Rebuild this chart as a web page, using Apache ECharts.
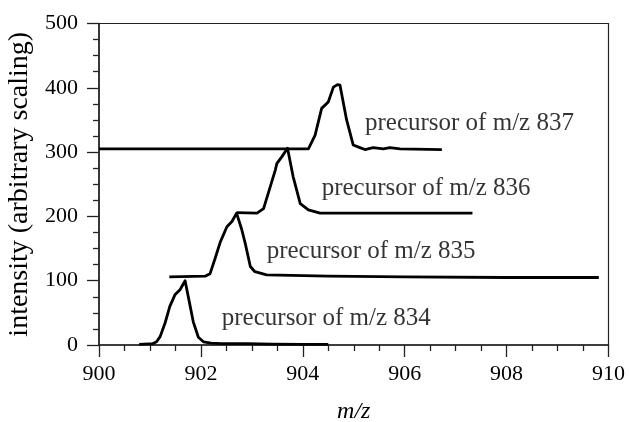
<!DOCTYPE html>
<html>
<head>
<meta charset="utf-8">
<script src="https://cdn.jsdelivr.net/npm/echarts@6/dist/echarts.min.js"></script>
<style>
  html, body { margin: 0; padding: 0; background: #fff; }
  #chart { width: 629px; height: 422px; }
</style>
</head>
<body>
<div id="chart"></div>
<script>
// Precursor isotope traces, each shifted up by ~100 for readability
const mz834 = [900.79, 901.05, 901.13, 901.20, 901.30, 901.39, 901.49, 901.59, 901.69, 901.75, 901.85, 901.95, 902.05, 902.20, 902.40, 902.90, 903.40, 904.00, 904.50];
const int834 = [1, 2, 5, 13, 35, 60, 78, 86, 100, 76, 36, 12, 5, 3, 2, 2, 1.5, 1, 1];

const mz835 = [901.38, 902.08, 902.18, 902.28, 902.38, 902.51, 902.61, 902.70, 902.80, 902.87, 902.97, 903.06, 903.29, 904.50, 906.00, 908.00, 909.81];
const int835 = [106, 107, 111, 135, 160, 184, 192, 205, 180, 158, 122, 114, 109, 107, 106, 105, 105];

const mz836 = [902.70, 903.10, 903.23, 903.36, 903.46, 903.49, 903.59, 903.70, 903.81, 903.95, 904.11, 904.34, 905.50, 907.33];
const int836 = [206, 205, 212, 246, 272, 282, 293, 306, 262, 220, 210, 205, 205, 205];

const mz837 = [900.00, 904.11, 904.24, 904.37, 904.50, 904.60, 904.68, 904.73, 904.86, 904.99, 905.12, 905.22, 905.38, 905.58, 905.71, 905.91, 906.73];
const int837 = [305, 305, 326, 368, 378, 401, 405, 404, 350, 311, 307, 304, 307, 305, 307, 305, 304];

// Trace captions and where they sit (data units)
const captionText = ['precursor of m/z 837', 'precursor of m/z 836', 'precursor of m/z 835', 'precursor of m/z 834'];
const captionMz = [905.22, 904.37, 903.29, 902.41];
const captionInt = [345, 243.5, 145, 41];

const FONT = "'Liberation Serif', 'Times New Roman', serif";

function pairs(xs, ys) { return xs.map((x, i) => [x, ys[i]]); }

function trace(name, xs, ys) {
  return {
    name: name,
    type: 'line',
    data: pairs(xs, ys),
    showSymbol: false,
    symbol: 'none',
    smooth: false,
    lineStyle: { color: '#000', width: 2.8, join: 'round' },
    z: 3
  };
}

const chart = echarts.init(document.getElementById('chart'), null, { renderer: 'canvas' });

chart.setOption({
  animation: false,
  backgroundColor: '#fff',
  grid: {
    left: 99, right: 20.5, top: 23.5, bottom: 77,
    outerBoundsMode: 'none',
    containLabel: false,
    show: true, borderColor: '#222', borderWidth: 1.2, backgroundColor: 'transparent'
  },
  xAxis: {
    type: 'value', min: 900, max: 910, interval: 2,
    name: 'm/z', nameLocation: 'middle', nameGap: 55,
    nameTextStyle: { fontFamily: FONT, fontSize: 24, fontStyle: 'italic', color: '#000' },
    axisLine: { show: true, onZero: false, lineStyle: { color: '#222', width: 1.5 } },
    axisTick: { show: true, inside: false, length: 12, lineStyle: { color: '#222', width: 1.3 } },
    minorTick: { show: true, splitNumber: 4, length: 6, lineStyle: { color: '#222', width: 1.3 } },
    axisLabel: { fontFamily: FONT, fontSize: 22, color: '#000', margin: 18 },
    splitLine: { show: false }
  },
  yAxis: {
    type: 'value', min: 0, max: 500, interval: 100,
    name: 'intensity (arbitrary scaling)', nameLocation: 'middle', nameGap: 64,
    nameTextStyle: { fontFamily: FONT, fontSize: 28, color: '#000' },
    axisLine: { show: true, onZero: false, lineStyle: { color: '#222', width: 1.5 } },
    axisTick: { show: true, inside: false, length: 12, lineStyle: { color: '#222', width: 1.3 } },
    minorTick: { show: true, splitNumber: 4, length: 6, lineStyle: { color: '#222', width: 1.3 } },
    axisLabel: { fontFamily: FONT, fontSize: 22, color: '#000', margin: 21 },
    splitLine: { show: false }
  },
  series: [
    trace('m/z 834', mz834, int834),
    trace('m/z 835', mz835, int835),
    trace('m/z 836', mz836, int836),
    trace('m/z 837', mz837, int837),
    {
      name: 'captions',
      type: 'scatter',
      symbolSize: 0,
      silent: true,
      data: captionText.map((t, i) => ({ value: [captionMz[i], captionInt[i]], name: t })),
      label: {
        show: true,
        position: 'right',
        distance: 0,
        formatter: p => p.name,
        fontFamily: FONT,
        fontSize: 25,
        color: '#000'
      },
      z: 4
    }
  ]
});
</script>
</body>
</html>
